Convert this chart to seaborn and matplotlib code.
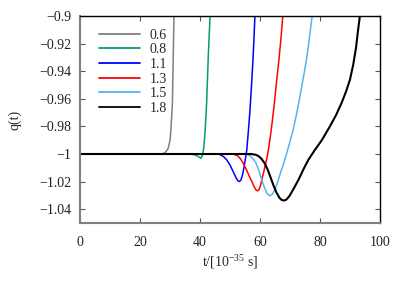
import numpy as np
import pandas as pd
import matplotlib
matplotlib.use("Agg")
import matplotlib.pyplot as plt
import seaborn as sns
from matplotlib.ticker import FixedLocator, FuncFormatter

sns.set_theme(style="white")
plt.rcParams["font.family"] = ["Liberation Serif", "DejaVu Serif"]
plt.rcParams["mathtext.fontset"] = "custom"
plt.rcParams["mathtext.rm"] = "Liberation Serif"
plt.rcParams["mathtext.default"] = "regular"

labels = ["0.6", "0.8", "1.1", "1.3", "1.5", "1.8"]
colors = ["#808080", "#009e73", "#0000ff", "#ff0000", "#56b4e9", "#000000"]

t_06 = [0, 27.5, 28.6, 29.4, 30.0, 30.3, 30.8, 31.1, 31.3, 31.5]
q_06 = [-1.0, -1.0, -0.9985, -0.9959, -0.990, -0.9827, -0.9634, -0.927, -0.903, -0.88]

t_08 = [0, 37.0, 38.5, 39.5, 40.3, 40.9, 41.3, 41.8, 42.2, 42.8, 43.3, 43.6]
q_08 = [-1.0, -1.0, -1.0008, -1.002, -1.0031, -1.0005, -0.9947, -0.980, -0.9634, -0.927, -0.903, -0.88]

t_11 = [0, 46.0, 47.0, 48.0, 49.0, 50.0, 51.0, 52.0, 52.6, 53.1, 53.6, 54.0, 54.4, 54.8, 55.2, 55.6,
        56.1, 56.6, 57.1, 57.6, 58.0, 58.3, 58.6]
q_11 = [-1.0, -1.0, -1.0008, -1.0022, -1.0045, -1.0080, -1.0125, -1.0172, -1.0193, -1.0200, -1.0190,
        -1.0165, -1.0128, -1.0080, -1.0025, -0.997, -0.984, -0.970, -0.953, -0.934, -0.916, -0.90, -0.88]

t_13 = [0, 51.0, 52.5, 53.5, 54.4, 55.5, 56.5, 57.3, 58.1, 58.7, 59.2, 59.7, 60.2, 60.7, 61.2, 61.7,
        62.3, 62.8, 63.4, 64.0, 64.7, 65.5, 66.3, 67.0, 67.6, 68.0]
q_13 = [-1.0, -1.0, -1.0012, -1.0035, -1.0067, -1.0115, -1.0165, -1.0200, -1.0240, -1.0262, -1.0267,
        -1.0258, -1.0225, -1.0175, -1.0135, -1.0085, -1.0030, -0.997, -0.988, -0.978, -0.965, -0.948,
        -0.932, -0.916, -0.90, -0.88]

t_15 = [0, 55.5, 56.8, 57.8, 58.6, 59.6, 60.6, 61.5, 62.3, 63.3, 64.2, 65.2, 66.1, 67.0, 68.0, 68.9,
        70.0, 71.0, 72.0, 73.0, 74.0, 75.0, 76.0, 76.8, 77.4, 77.8]
q_15 = [-1.0, -1.0, -1.0015, -1.0038, -1.0062, -1.0118, -1.0188, -1.0245, -1.0285, -1.0303, -1.0290,
        -1.0245, -1.0188, -1.0125, -1.0060, -0.9995, -0.991, -0.983, -0.973, -0.962, -0.950, -0.938,
        -0.924, -0.910, -0.90, -0.88]

t_18 = [0, 57.0, 58.5, 59.5, 60.5, 61.5, 62.5, 63.5, 64.5, 65.5, 66.5, 67.3, 68.0, 68.8, 69.8, 71.0,
        72.0, 72.8, 74.5, 76.1, 78.3, 80.6, 83.3, 85.3, 87.2, 88.8, 90.0, 91.1, 92.0, 92.7, 93.3, 93.6]
q_18 = [-1.0, -1.0, -1.0005, -1.0015, -1.0035, -1.0065, -1.0110, -1.0168, -1.0228, -1.0280, -1.0318,
        -1.0334, -1.0337, -1.0330, -1.0305, -1.0260, -1.0220, -1.0188, -1.0110, -1.0043, -0.997,
        -0.990, -0.980, -0.972, -0.963, -0.954, -0.946, -0.935, -0.923, -0.910, -0.90, -0.89]

series_t = [t_06, t_08, t_11, t_13, t_15, t_18]
series_q = [q_06, q_08, q_11, q_13, q_15, q_18]

x_ticks = [0, 20, 40, 60, 80, 100]
y_ticks = [-1.04, -1.02, -1.0, -0.98, -0.96, -0.94, -0.92, -0.9]

fig = plt.figure(figsize=(4.07, 2.84), dpi=100)
ax = fig.add_axes([80 / 407, 1 - 223 / 284, 300 / 407, 207 / 284])

for lab, col, tt, qq in zip(labels, colors, series_t, series_q):
    df = pd.DataFrame({"t": tt, "q": qq})
    lw = 1.5 if col == "#000000" else 1.1
    sns.lineplot(data=df, x="t", y="q", ax=ax, color=col, label=lab,
                 linewidth=lw, sort=False, estimator=None)

ax.set_xlim(0, 100)
ax.set_ylim(-1.05, -0.9)
ax.xaxis.set_major_locator(FixedLocator(x_ticks))
ax.yaxis.set_major_locator(FixedLocator(y_ticks))

def yfmt(v, pos):
    s = ("%.2f" % v).rstrip("0").rstrip(".")
    return s.replace("-", "\u2212")

def xfmt(v, pos):
    return "%d" % v

ax.yaxis.set_major_formatter(FuncFormatter(yfmt))
ax.xaxis.set_major_formatter(FuncFormatter(xfmt))

ax.tick_params(axis="both", which="major", direction="in", length=3.5, width=0.8,
               labelsize=10, colors="#555555", labelcolor="#222222",
               bottom=True, left=True, top=True, right=True, pad=6)
ax.tick_params(axis="x", pad=9)

for side in ["left", "bottom"]:
    ax.spines[side].set_color("#808080")
    ax.spines[side].set_linewidth(1.5)
for side in ["top", "right"]:
    ax.spines[side].set_color("#000000")
    ax.spines[side].set_linewidth(1.0)

ax.set_xlabel("t/[10$^{-35}$ s]", fontsize=10, labelpad=3)
ax.set_ylabel("q(t)", fontsize=10, labelpad=13)

leg = ax.legend(loc="upper left", frameon=False, fontsize=10, handlelength=3.0,
                handletextpad=0.7, labelspacing=0.12, borderaxespad=0.5,
                bbox_to_anchor=(0.02, 1.0))
for line in leg.get_lines():
    line.set_linewidth(1.3)

fig.savefig("out.png", dpi=100)
